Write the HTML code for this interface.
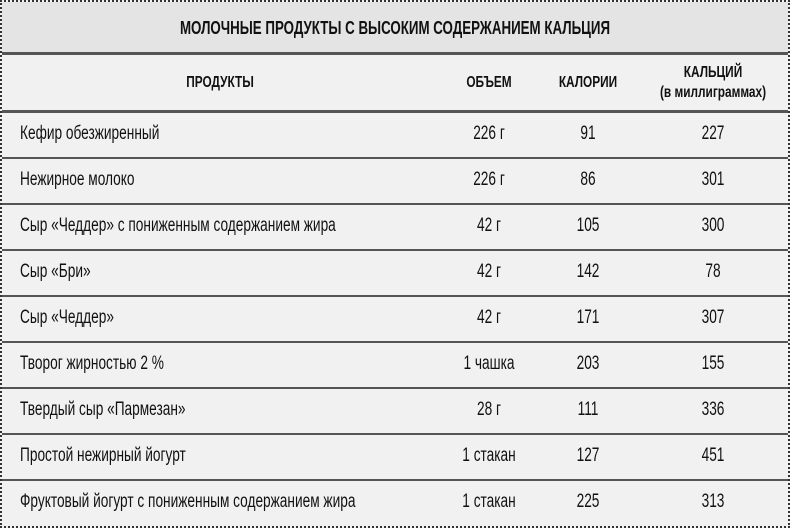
<!DOCTYPE html>
<html><head><meta charset="utf-8"><style>
body{margin:0;width:790px;height:528px;background:#f1f1f1;position:relative;overflow:hidden;font-family:"Liberation Sans",sans-serif;color:#111}
.b{position:absolute;left:0;top:0;width:786px;height:524px;border:2px dotted #333;}
.title{position:absolute;left:2px;top:2px;width:786px;height:51px;background:#e4e4e4}
.hl{position:absolute;left:2px;width:786px;height:2px;background:#555}
.t{position:absolute;white-space:nowrap;font-size:19px;line-height:22px;transform:translate(-50%,-50%) scaleX(.72)}
.l{position:absolute;white-space:nowrap;font-size:19px;line-height:22px;left:20px;transform-origin:left center;transform:translateY(-50%) scaleX(.72)}
.h{font-weight:bold;font-size:16px;transform:translate(-50%,-50%) scaleX(.74)}
</style></head><body>
<div class="title"></div>
<div class="b"></div>
<div class="hl" style="top:52px;height:3px"></div>
<div class="hl" style="top:110px;height:3px"></div>
<div class="hl" style="top:157px"></div>
<div class="hl" style="top:203px"></div>
<div class="hl" style="top:249px"></div>
<div class="hl" style="top:295px"></div>
<div class="hl" style="top:341px"></div>
<div class="hl" style="top:387px"></div>
<div class="hl" style="top:433px"></div>
<div class="hl" style="top:479px"></div>
<div class="t h" style="left:395px;top:28px;font-size:18px">МОЛОЧНЫЕ ПРОДУКТЫ С ВЫСОКИМ СОДЕРЖАНИЕМ КАЛЬЦИЯ</div>
<div class="t h" style="left:220px;top:83px">ПРОДУКТЫ</div>
<div class="t h" style="left:489px;top:83px">ОБЪЕМ</div>
<div class="t h" style="left:588px;top:83px">КАЛОРИИ</div>
<div class="t h" style="left:713px;top:73px">КАЛЬЦИЙ</div>
<div class="t h" style="left:713px;top:93px">(в миллиграммах)</div>

<div class="l" style="top:134px">Кефир обезжиренный</div><div class="t" style="left:489px;top:134px">226 г</div><div class="t" style="left:588px;top:134px">91</div><div class="t" style="left:713px;top:134px">227</div>
<div class="l" style="top:180px">Нежирное молоко</div><div class="t" style="left:489px;top:180px">226 г</div><div class="t" style="left:588px;top:180px">86</div><div class="t" style="left:713px;top:180px">301</div>
<div class="l" style="top:226px">Сыр «Чеддер» с пониженным содержанием жира</div><div class="t" style="left:489px;top:226px">42 г</div><div class="t" style="left:588px;top:226px">105</div><div class="t" style="left:713px;top:226px">300</div>
<div class="l" style="top:272px">Сыр «Бри»</div><div class="t" style="left:489px;top:272px">42 г</div><div class="t" style="left:588px;top:272px">142</div><div class="t" style="left:713px;top:272px">78</div>
<div class="l" style="top:318px">Сыр «Чеддер»</div><div class="t" style="left:489px;top:318px">42 г</div><div class="t" style="left:588px;top:318px">171</div><div class="t" style="left:713px;top:318px">307</div>
<div class="l" style="top:364px">Творог жирностью 2 %</div><div class="t" style="left:489px;top:364px">1 чашка</div><div class="t" style="left:588px;top:364px">203</div><div class="t" style="left:713px;top:364px">155</div>
<div class="l" style="top:410px">Твердый сыр «Пармезан»</div><div class="t" style="left:489px;top:410px">28 г</div><div class="t" style="left:588px;top:410px">111</div><div class="t" style="left:713px;top:410px">336</div>
<div class="l" style="top:456px">Простой нежирный йогурт</div><div class="t" style="left:489px;top:456px">1 стакан</div><div class="t" style="left:588px;top:456px">127</div><div class="t" style="left:713px;top:456px">451</div>
<div class="l" style="top:502px">Фруктовый йогурт с пониженным содержанием жира</div><div class="t" style="left:489px;top:502px">1 стакан</div><div class="t" style="left:588px;top:502px">225</div><div class="t" style="left:713px;top:502px">313</div>
</body></html>
